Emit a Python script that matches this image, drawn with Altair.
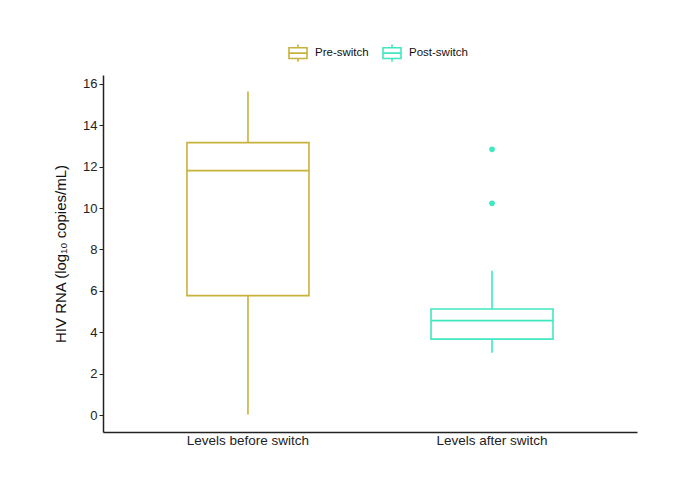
import altair as alt
import pandas as pd

groups = ["Levels before switch", "Levels after switch"]
series = ["Pre-switch", "Post-switch"]
colors = ["#C8B23A", "#3FE8C0"]
lower = [0.02, 3.01]
q1 = [5.77, 3.67]
median = [11.81, 4.56]
q3 = [13.16, 5.12]
upper = [15.63, 6.97]
out_group = ["Levels after switch", "Levels after switch"]
out_series = ["Post-switch", "Post-switch"]
out_value = [12.84, 10.23]
y_ticks = [0, 2, 4, 6, 8, 10, 12, 14, 16]

stats = pd.DataFrame({"group": groups, "series": series, "lower": lower, "q1": q1,
                      "median": median, "q3": q3, "upper": upper})
outl = pd.DataFrame({"group": out_group, "outlier_series": out_series, "value": out_value})

FONT = "Liberation Sans"
BOXW = 122
SW = 1.6

xenc = alt.X("group:N", sort=groups,
             scale=alt.Scale(paddingInner=0.5, paddingOuter=0.344),
             axis=alt.Axis(title=None, labelAngle=0, ticks=False, labelAlign="center",
                           labelFont=FONT, labelFontSize=13.5, labelColor="#222",
                           labelPadding=8, domainColor="#222", domainWidth=1.5))
yscale = alt.Scale(domain=[-0.82, 16.43], nice=False, zero=False)
leg = alt.Legend(title=None, orient="none", direction="horizontal",
                 legendX=185, legendY=-32,
                 symbolType="M-1,-0.6H1V0.6H-1Z M-1,0H1 M0,-0.6V-0.95 M0,0.6V0.95",
                 symbolSize=324, symbolStrokeWidth=SW, symbolFillColor="transparent",
                 labelFont=FONT, labelFontSize=11.5, labelColor="#111",
                 labelOffset=7, columnPadding=10)


def senc(legend=None):
    if legend is None:
        return alt.Stroke("series:N", scale=alt.Scale(domain=series, range=colors),
                          sort=series, legend=None)
    return alt.Stroke("series:N", scale=alt.Scale(domain=series, range=colors),
                      sort=series, legend=legend)


base = alt.Chart(stats)

box = base.mark_bar(size=BOXW, filled=False, strokeWidth=SW, opacity=1).encode(
    x=xenc,
    y=alt.Y("q1:Q", scale=yscale,
            axis=alt.Axis(title="HIV RNA (log\u2081\u2080 copies/mL)", values=y_ticks,
                          grid=False, labelFont=FONT, labelFontSize=13, labelColor="#222",
                          tickColor="#222", tickSize=4, tickWidth=1, labelPadding=2,
                          titleFont=FONT, titleFontSize=15, titleFontWeight="normal",
                          titleColor="#111", titlePadding=14,
                          domainColor="#222", domainWidth=1.5)),
    y2="q3:Q",
    stroke=senc(leg),
)

med = base.mark_bar(size=BOXW, filled=False, strokeWidth=SW, opacity=1).encode(
    x=alt.X("group:N", sort=groups),
    y=alt.Y("median:Q"),
    y2="median:Q",
    stroke=senc(),
)

wlo = base.mark_rule(strokeWidth=SW).encode(
    x=alt.X("group:N", sort=groups), y="lower:Q", y2="q1:Q",
    stroke=senc(),
)
whi = base.mark_rule(strokeWidth=SW).encode(
    x=alt.X("group:N", sort=groups), y="q3:Q", y2="upper:Q",
    stroke=senc(),
)

pts = alt.Chart(outl).mark_circle(size=32, opacity=1).encode(
    x=alt.X("group:N", sort=groups), y=alt.Y("value:Q"),
    fill=alt.Fill("outlier_series:N", scale=alt.Scale(domain=series, range=colors), legend=None),
)

chart = alt.layer(wlo, whi, box, med, pts).properties(
    width=534, height=357,
    background="white",
    autosize=alt.AutoSizeParams(type="none"),
    padding={"left": 95, "top": 67, "right": 45, "bottom": 47},
).configure_view(stroke=None).resolve_scale(fill="independent", stroke="independent")

chart.save("out.html", embed_options={"renderer": "svg", "actions": False})
